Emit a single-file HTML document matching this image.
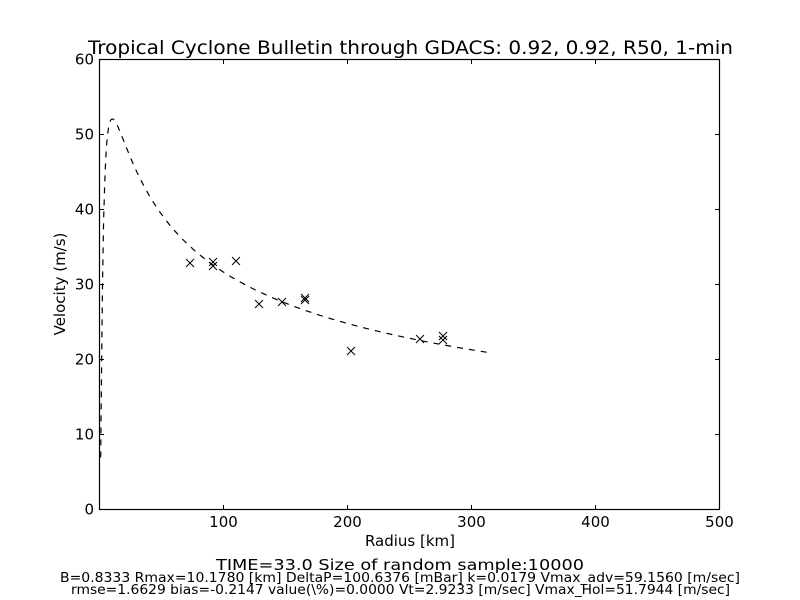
<!DOCTYPE html>
<html><head><meta charset="utf-8"><style>
body{margin:0;background:#fff;}
svg{display:block;font-family:"DejaVu Sans","Liberation Sans",sans-serif;}
</style></head><body>
<svg id="s" width="800" height="600" xmlns="http://www.w3.org/2000/svg" xml:space="preserve">
<rect width="800" height="600" fill="#fff"/>
<text x="88" y="54" font-size="19" textLength="645" lengthAdjust="spacingAndGlyphs">Tropical Cyclone Bulletin through GDACS: 0.92, 0.92, R50, 1-min</text>
<g id="ticks" stroke="#000" stroke-width="1"></g>
<g font-size="15" id="labels"></g>
<path id="curve" fill="none" stroke="#000" stroke-width="1.2" stroke-dasharray="6,6"/>
<g id="pts" stroke="#000" stroke-width="1" fill="none"></g>
<rect x="99.5" y="59.5" width="620" height="450" fill="none" stroke="#000" stroke-width="1.2"/>
<text x="410" y="546" font-size="15" text-anchor="middle">Radius [km]</text>
<text transform="translate(65,284) rotate(-90)" font-size="15" text-anchor="middle">Velocity (m/s)</text>
<text x="216" y="570" font-size="15" textLength="368" lengthAdjust="spacingAndGlyphs">TIME=33.0     Size of random sample:10000</text>
<text x="60" y="582" font-size="13" textLength="680" lengthAdjust="spacingAndGlyphs">B=0.8333 Rmax=10.1780 [km]  DeltaP=100.6376 [mBar] k=0.0179 Vmax_adv=59.1560 [m/sec]</text>
<text x="71" y="594" font-size="13" textLength="659" lengthAdjust="spacingAndGlyphs">rmse=1.6629 bias=-0.2147 value(\%)=0.0000 Vt=2.9233 [m/sec] Vmax_Hol=51.7944 [m/sec]</text>
</svg>
<script>
var X=r=>99.5+r*1.24, Y=v=>509.5-v*7.5, ns="http://www.w3.org/2000/svg";
var t=document.getElementById('ticks'),l=document.getElementById('labels');
function el(p,n,a,txt){var e=document.createElementNS(ns,n);for(var k in a)e.setAttribute(k,a[k]);if(txt!=null)e.textContent=txt;p.appendChild(e);}
for(var v=0;v<=60;v+=10){var y=Y(v);el(t,'line',{x1:99.5,x2:104,y1:y,y2:y});el(t,'line',{x1:715,x2:719.5,y1:y,y2:y});el(l,'text',{x:94,y:y+5,'text-anchor':'end'},v);}
for(var r=100;r<=500;r+=100){var x=X(r);el(t,'line',{x1:x,x2:x,y1:509.5,y2:505});el(t,'line',{x1:x,x2:x,y1:59.5,y2:64});el(l,'text',{x:x,y:527,'text-anchor':'middle'},r);}
var d='',Rm=10.178,B=0.8333;
for(var r=0.5;r<=315;r+=(r<20?0.25:2)){var a=Math.pow(Rm/r,B);var V=51.79*Math.sqrt(a*Math.exp(1-a))*(1+0.055*(1-Math.exp(-r/100)));d+=(d?'L':'M')+X(r).toFixed(1)+','+Y(Math.max(V,7)).toFixed(1);}
document.getElementById('curve').setAttribute('d',d);
var P=[[190,263],[213,262],[213,266],[236,261],[259,304],[282,302],[305,298],[305,300],[351,351],[420,339],[443,336],[443,340]],g=document.getElementById('pts');
P.forEach(p=>{el(g,'path',{d:'M'+(p[0]-4)+','+(p[1]-4)+'l8,8M'+(p[0]-4)+','+(p[1]+4)+'l8,-8'});});
</script>
</body></html>
